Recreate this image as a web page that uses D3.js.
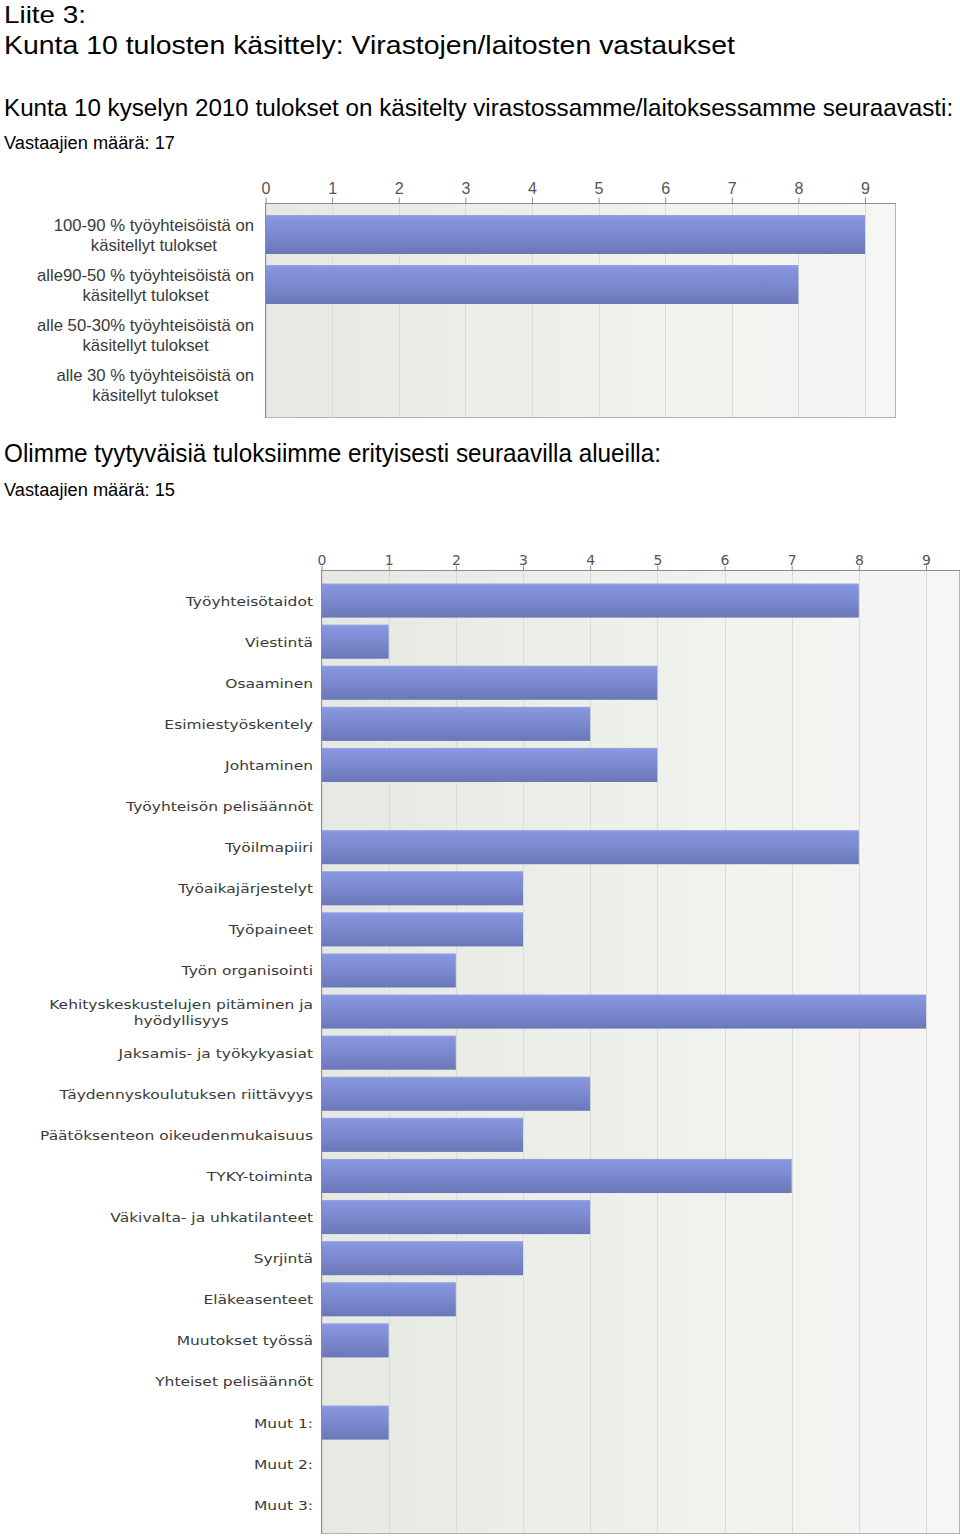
<!DOCTYPE html>
<html><head><meta charset="utf-8">
<script src="https://cdn.jsdelivr.net/npm/d3@7"></script>
<style>body{margin:0;background:#fff}svg{display:block}</style>
</head><body>
<script>
// ---- data ----
const headings = [
  "Liite 3:",
  "Kunta 10 tulosten käsittely: Virastojen/laitosten vastaukset",
  "Kunta 10 kyselyn 2010 tulokset on käsitelty virastossamme/laitoksessamme seuraavasti:",
  "Vastaajien määrä: 17",
  "Olimme tyytyväisiä tuloksiimme erityisesti seuraavilla alueilla:",
  "Vastaajien määrä: 15"
];
const categories1 = [
  "100-90 % työyhteisöistä on\nkäsitellyt tulokset",
  "alle90-50 % työyhteisöistä on\nkäsitellyt tulokset",
  "alle 50-30% työyhteisöistä on\nkäsitellyt tulokset",
  "alle 30 % työyhteisöistä on\nkäsitellyt tulokset"
];
const values1 = [9, 8, 0, 0];
const categories2 = [
  "Työyhteisötaidot","Viestintä","Osaaminen","Esimiestyöskentely","Johtaminen",
  "Työyhteisön pelisäännöt","Työilmapiiri","Työaikajärjestelyt","Työpaineet",
  "Työn organisointi","Kehityskeskustelujen pitäminen ja\nhyödyllisyys",
  "Jaksamis- ja työkykyasiat","Täydennyskoulutuksen riittävyys",
  "Päätöksenteon oikeudenmukaisuus","TYKY-toiminta","Väkivalta- ja uhkatilanteet",
  "Syrjintä","Eläkeasenteet","Muutokset työssä","Yhteiset pelisäännöt",
  "Muut 1:","Muut 2:","Muut 3:"
];
const values2 = [8,1,5,4,5,0,8,3,3,2,9,2,4,3,7,4,3,2,1,0,1,0,0];
const tickValues = [0,1,2,3,4,5,6,7,8,9];

// ---- drawing ----
const W = 960, H = 1538;
const svg = d3.select("body").append("svg").attr("width", W).attr("height", H);
const defs = svg.append("defs");

const bg = defs.append("linearGradient").attr("id","bg").attr("x1","0").attr("x2","1").attr("y1","0").attr("y2","0");
bg.append("stop").attr("offset","0").attr("stop-color","#e6e9e2");
bg.append("stop").attr("offset","1").attr("stop-color","#f6f7f4");

const bar = defs.append("linearGradient").attr("id","bar").attr("x1","0").attr("x2","0").attr("y1","0").attr("y2","1");
bar.append("stop").attr("offset","0").attr("stop-color","#98a5e6");
bar.append("stop").attr("offset","0.06").attr("stop-color","#8796de");
bar.append("stop").attr("offset","0.5").attr("stop-color","#7b89cf");
bar.append("stop").attr("offset","1").attr("stop-color","#6a77b7");

// headings
const headSpec = [
  {y:23, size:24.5, w:82},
  {y:54, size:26, w:731},
  {y:116, size:25, w:950, fitSize:true},
  {y:149, size:18, w:171},
  {y:462, size:25, w:657},
  {y:496, size:18, w:171}
];
headings.forEach((t,i)=>{
  const s = headSpec[i];
  const el = svg.append("text").attr("x",4).attr("y",s.y)
    .attr("font-family","Liberation Sans, Arial, sans-serif")
    .attr("font-size",s.size).attr("fill","#000")
    .text(t);
  if (s.fitSize) {
    const nat = el.node().getComputedTextLength();
    el.attr("font-size", s.size * s.w / nat);
  } else {
    el.attr("textLength", s.w).attr("lengthAdjust","spacingAndGlyphs");
  }
});

function chart(opt){
  const {cats, vals, x0, x9, left, right, top, bottom, bandTop, bandBottom, pad,
         labelRight, lineH, baseOff, labelFont, labelSize, labelColor, refLabel, refWidth,
         tickFont, tickSize, tickColor, tickY, tickLen} = opt;
  const x = d3.scaleLinear().domain([0,9]).range([x0,x9]);
  const y = d3.scaleBand().domain(cats).range([bandTop,bandBottom])
    .paddingInner(pad).paddingOuter(pad/2);
  const g = svg.append("g");
  g.append("rect").attr("x",left).attr("y",top).attr("width",right-left).attr("height",bottom-top)
    .attr("fill","url(#bg)");
  g.append("g").selectAll("line").data(tickValues).join("line")
    .attr("x1",d=>Math.round(x(d))+0.5).attr("x2",d=>Math.round(x(d))+0.5)
    .attr("y1",top).attr("y2",bottom).attr("stroke","#dadcd7").attr("stroke-width",1);
  g.append("g").selectAll("rect").data(cats).join("rect")
    .attr("x",x(0)).attr("y",d=>y(d))
    .attr("width",(d,i)=>x(vals[i])-x(0)).attr("height",y.bandwidth())
    .attr("fill","url(#bar)");
  g.append("line").attr("x1",right-0.5).attr("x2",right-0.5).attr("y1",top).attr("y2",bottom).attr("stroke","#b4b4b4");
  g.append("line").attr("x1",left).attr("x2",right).attr("y1",bottom-0.5).attr("y2",bottom-0.5).attr("stroke","#b4b4b4");
  g.append("line").attr("x1",left+0.5).attr("x2",left+0.5).attr("y1",top).attr("y2",bottom).attr("stroke","#8c8c8c");
  const ax = g.append("g").attr("transform",`translate(0,${top+0.5})`)
    .call(d3.axisTop(x).tickValues(tickValues).tickSize(tickLen).tickPadding(0).tickFormat(d3.format("d")));
  ax.select(".domain").attr("stroke","#8c8c8c").attr("d",`M${left},0H${right}`);
  ax.selectAll(".tick line").attr("stroke","#8c8c8c");
  ax.selectAll(".tick text").attr("font-family",tickFont).attr("font-size",tickSize)
    .attr("fill",tickColor).attr("y",tickY - top).attr("dy",0);
  const lg = g.append("g").attr("font-family",labelFont).attr("font-size",labelSize).attr("fill",labelColor);
  const probe = lg.append("text").text(refLabel);
  const factor = refWidth / probe.node().getComputedTextLength();
  probe.remove();
  cats.forEach(c=>{
    const lines = c.split("\n");
    const cy = y(c) + y.bandwidth()/2;
    const tmp = lines.map(l=>{
      const t = lg.append("text").text(l);
      const w = t.node().getComputedTextLength()*factor;
      return {t,w};
    });
    const maxW = d3.max(tmp,d=>d.w);
    tmp.forEach((d,i)=>{
      const yy = cy + (i-(lines.length-1)/2)*lineH + baseOff;
      d.t.attr("y",yy).attr("textLength",d.w).attr("lengthAdjust","spacingAndGlyphs");
      if(lines.length===1){
        d.t.attr("x",labelRight).attr("text-anchor","end");
      } else {
        d.t.attr("x",labelRight-maxW/2).attr("text-anchor","middle");
      }
    });
  });
}

chart({cats:categories1, vals:values1, x0:265.5, x9:865, left:265, right:896, top:203, bottom:418,
  bandTop:209.5, bandBottom:409.5, pad:0.22, labelRight:254, lineH:20, baseOff:6,
  labelFont:"Liberation Sans, Arial, sans-serif", labelSize:17, labelColor:"#3a3a3a",
  refLabel:"alle90-50 % työyhteisöistä on", refWidth:217,
  tickFont:"Liberation Sans, Arial, sans-serif", tickSize:16, tickColor:"#555", tickY:193, tickLen:6});

chart({cats:categories2, vals:values2, x0:321.5, x9:926, left:321, right:960, top:570, bottom:1534,
  bandTop:580, bandBottom:1525.3, pad:0.17, labelRight:313, lineH:16, baseOff:5,
  labelFont:"DejaVu Sans, Verdana, sans-serif", labelSize:13, labelColor:"#3a3a3a",
  refLabel:"Päätöksenteon oikeudenmukaisuus", refWidth:273,
  tickFont:"DejaVu Sans, Verdana, sans-serif", tickSize:14, tickColor:"#555", tickY:564, tickLen:5});
</script>
</body></html>
